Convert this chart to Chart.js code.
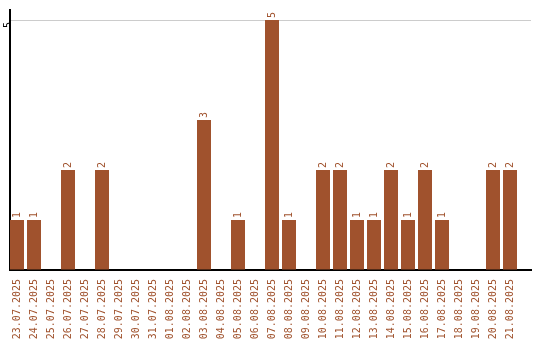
<!DOCTYPE html>
<html>
<head>
<meta charset="utf-8">
<script src="https://cdn.jsdelivr.net/npm/chart.js@4.4.0/dist/chart.umd.min.js"></script>
<style>
html,body{margin:0;padding:0;background:#fff;}
#wrap{width:540px;height:340px;position:relative;}
</style>
</head>
<body>
<div id="wrap"><canvas id="c" width="540" height="340"></canvas></div>
<script>
const categories = ["23.07.2025","24.07.2025","25.07.2025","26.07.2025","27.07.2025","28.07.2025","29.07.2025","30.07.2025","31.07.2025","01.08.2025","02.08.2025","03.08.2025","04.08.2025","05.08.2025","06.08.2025","07.08.2025","08.08.2025","09.08.2025","10.08.2025","11.08.2025","12.08.2025","13.08.2025","14.08.2025","15.08.2025","16.08.2025","17.08.2025","18.08.2025","19.08.2025","20.08.2025","21.08.2025"];
const counts = [1,1,0,2,0,2,0,0,0,0,0,3,0,1,0,5,1,0,2,2,1,1,2,1,2,1,0,0,2,2];
const yTickValues = [5];

const BAR = '#A0522D';
const FONT = {family: "'DejaVu Sans Mono', monospace", size: 10};

const points = categories.map((c, i) => ({x: i, y: counts[i]}));

const valueLabels = {
  id: 'valueLabels',
  afterDatasetsDraw(chart) {
    const ctx = chart.ctx;
    const meta = chart.getDatasetMeta(0);
    ctx.save();
    ctx.fillStyle = BAR;
    ctx.font = FONT.size + 'px ' + FONT.family;
    ctx.textAlign = 'left';
    ctx.textBaseline = 'middle';
    meta.data.forEach((el, i) => {
      const v = counts[i];
      if (!v) return;
      ctx.save();
      ctx.translate(el.x, el.y - 2);
      ctx.rotate(-Math.PI / 2);
      ctx.fillText(String(v), 0, 0);
      ctx.restore();
    });
    ctx.restore();
  }
};

new Chart(document.getElementById('c'), {
  type: 'bar',
  data: {
    datasets: [{
      data: points,
      backgroundColor: BAR,
      borderWidth: 0,
      barPercentage: 14/17,
      categoryPercentage: 1
    }]
  },
  options: {
    responsive: false,
    animation: false,
    events: [],
    layout: {padding: {top: 10, right: 9, left: 0, bottom: 0}},
    plugins: {legend: {display: false}, tooltip: {enabled: false}},
    scales: {
      x: {
        type: 'linear',
        offset: false,
        bounds: 'data',
        min: -7/17,
        max: -7/17 + 521/17,
        grid: {display: false},
        border: {display: true, color: '#000', width: 2},
        afterFit(s) { s.height = 70; },
        afterBuildTicks(s) { s.ticks = categories.map((c, i) => ({value: i})); },
        ticks: {
          autoSkip: false,
          minRotation: 90,
          maxRotation: 90,
          padding: 1,
          color: BAR,
          font: FONT,
          callback(v) { return categories[v] !== undefined ? categories[v] : ''; }
        }
      },
      y: {
        min: 0,
        max: 5.2,
        afterFit(s) { s.width = 10; },
        afterBuildTicks(s) { s.ticks = [{value: 0}].concat(yTickValues.map(v => ({value: v}))); },
        border: {display: true, color: '#000', width: 2},
        grid: {
          drawTicks: false,
          color(ctx) { return yTickValues.includes(ctx.tick && ctx.tick.value) ? '#cccccc' : 'rgba(0,0,0,0)'; }
        },
        ticks: {
          minRotation: 90,
          maxRotation: 90,
          padding: 2,
          labelOffset: 2,
          color: '#000',
          font: FONT,
          callback(v) { return yTickValues.includes(v) ? String(v) : ''; }
        }
      }
    }
  },
  plugins: [valueLabels]
});
</script>
</body>
</html>
